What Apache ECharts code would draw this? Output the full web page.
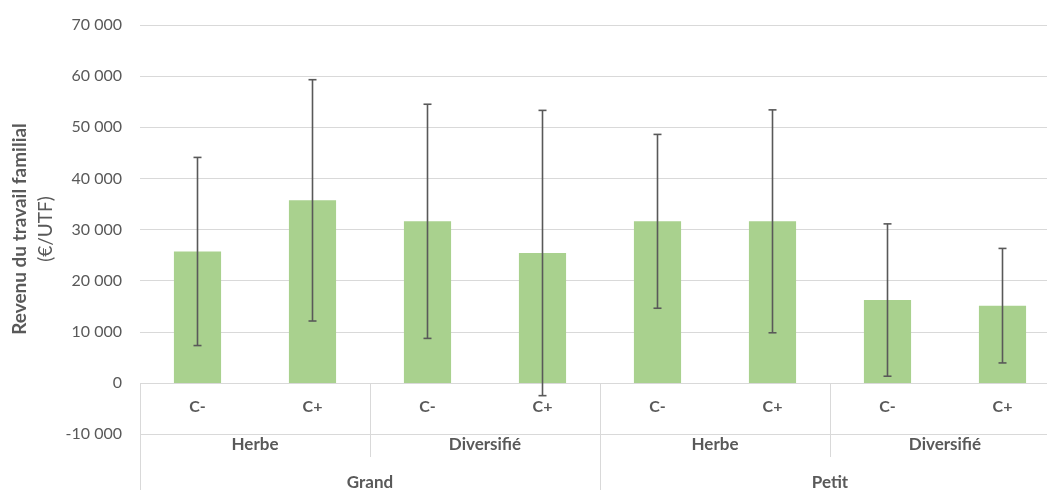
<!DOCTYPE html>
<html>
<head>
<meta charset="utf-8">
<title>Revenu du travail familial</title>
<script src="https://cdn.jsdelivr.net/npm/echarts@6/dist/echarts.min.js"></script>
<style>
  html, body { margin: 0; padding: 0; background: #fff; }
  #chart { width: 1047px; height: 490px; }
</style>
</head>
<body>
<div id="chart"></div>
<script>
// Category levels (innermost first)
const classes = ['C-', 'C+', 'C-', 'C+', 'C-', 'C+', 'C-', 'C+'];
const systems = ['Herbe', 'Diversifié', 'Herbe', 'Diversifié'];
const sizes = ['Grand', 'Petit'];

// Mean family labour income (€/UTF) and standard deviation per group
const means = [25700, 35700, 31600, 25400, 31600, 31600, 16200, 15100];
const sds = [18400, 23600, 22900, 27900, 17000, 21800, 14900, 11200];

const TEXT = '#595959';
const GRID = '#d9d9d9';
const FONT = 'Lato, "Open Sans", sans-serif';

const errorData = means.map((m, i) => [i, m - sds[i], m + sds[i]]);

function fmt(v) {
  return String(v).replace(/\B(?=(\d{3})+(?!\d))/g, ' ');
}

const chart = echarts.init(document.getElementById('chart'), null, { renderer: 'canvas' });

const hiddenLine = { show: false, onZero: false };

chart.setOption({
  animation: false,
  textStyle: { fontFamily: FONT },
  grid: { left: 140, right: -13, top: 25, bottom: 56, containLabel: false, outerBoundsMode: 'none' },
  yAxis: {
    type: 'value',
    min: -10000,
    max: 70000,
    interval: 10000,
    axisLine: { show: false },
    axisTick: { show: false },
    axisLabel: { color: TEXT, fontSize: 16, margin: 18, fontFamily: FONT, formatter: fmt },
    splitLine: { lineStyle: { color: GRID, width: 1 } }
  },
  xAxis: [
    {
      // innermost level: labels sit in the band between zero and the bottom edge
      type: 'category',
      data: classes,
      position: 'bottom',
      axisLine: hiddenLine,
      axisTick: { show: false },
      axisLabel: { interval: 0, color: TEXT, fontSize: 16, fontWeight: 'bold', margin: -35, fontFamily: FONT },
      splitLine: { show: false }
    },
    {
      // dividers of the innermost level, rising from the bottom edge to zero
      type: 'category',
      data: systems,
      position: 'bottom',
      axisLine: hiddenLine,
      axisTick: { show: true, inside: true, length: 51, interval: 0, lineStyle: { color: GRID, width: 1 } },
      axisLabel: { show: false },
      splitLine: { show: false }
    },
    {
      // second level labels and their dividers
      type: 'category',
      data: systems,
      position: 'bottom',
      axisLine: hiddenLine,
      axisTick: { show: true, inside: false, length: 23, interval: 0, lineStyle: { color: GRID, width: 1 } },
      axisLabel: { interval: 0, color: TEXT, fontSize: 17, fontWeight: 'bold', margin: 2, fontFamily: FONT },
      splitLine: { show: false }
    },
    {
      // outermost level
      type: 'category',
      data: sizes,
      position: 'bottom',
      axisLine: hiddenLine,
      axisTick: { show: true, inside: false, length: 60, interval: 0, lineStyle: { color: GRID, width: 1 } },
      axisLabel: { interval: 0, color: TEXT, fontSize: 17, fontWeight: 'bold', margin: 40, fontFamily: FONT },
      splitLine: { show: false }
    }
  ],
  graphic: [
    {
      type: 'text',
      x: 20, y: 229, rotation: Math.PI / 2,
      style: {
        text: 'Revenu du travail familial',
        fill: TEXT, font: 'bold 19px ' + FONT,
        textAlign: 'center', textVerticalAlign: 'middle'
      }
    },
    {
      type: 'text',
      x: 46, y: 229, rotation: Math.PI / 2,
      style: {
        text: '(€/UTF)',
        fill: TEXT, font: '19px ' + FONT,
        textAlign: 'center', textVerticalAlign: 'middle'
      }
    }
  ],
  series: [
    {
      type: 'bar',
      xAxisIndex: 0,
      data: means,
      barWidth: '41%',
      itemStyle: { color: '#a9d18e' },
      z: 2
    },
    {
      type: 'custom',
      xAxisIndex: 0,
      data: errorData,
      encode: { x: 0, y: [1, 2] },
      z: 5,
      renderItem: function (params, api) {
        const lo = api.coord([api.value(0), api.value(1)]);
        const hi = api.coord([api.value(0), api.value(2)]);
        const half = 4;
        const style = { stroke: '#595959', lineWidth: 1.6 };
        return {
          type: 'group',
          children: [
            { type: 'line', shape: { x1: lo[0], y1: lo[1], x2: hi[0], y2: hi[1] }, style: style },
            { type: 'line', shape: { x1: hi[0] - half, y1: hi[1], x2: hi[0] + half, y2: hi[1] }, style: style },
            { type: 'line', shape: { x1: lo[0] - half, y1: lo[1], x2: lo[0] + half, y2: lo[1] }, style: style }
          ]
        };
      }
    }
  ]
});
</script>
</body>
</html>
